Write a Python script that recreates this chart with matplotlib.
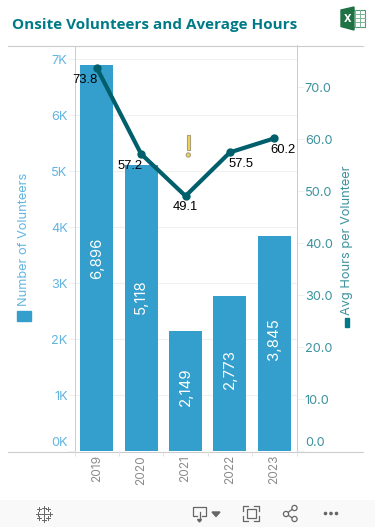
# onsite volunteers bars + avg hours line, dashboard style
import matplotlib
matplotlib.use('Agg')
import matplotlib.pyplot as plt
from matplotlib.patches import Rectangle, Circle, Polygon
from matplotlib.transforms import ScaledTranslation

years = ['2019', '2020', '2021', '2022', '2023']
volunteers = [6896, 5118, 2149, 2773, 3845]
avg_hours = [73.8, 57.2, 49.1, 57.5, 60.2]
left_ticks = [0, 1000, 2000, 3000, 4000, 5000, 6000, 7000]
left_labels = ['0K', '1K', '2K', '3K', '4K', '5K', '6K', '7K']
right_ticks = [0, 10, 20, 30, 40, 50, 60, 70]
right_labels = ['0.0', '10.0', '20.0', '30.0', '40.0', '50.0', '60.0', '70.0']

W, H = 375, 527
BAR = '#349fcd'
LINE = '#005f6b'
TEAL = '#007a87'
LBLUE = '#62b5e0'
RTEAL = '#3c929e'
GRAY = '#cccccc'
FONT = ['Inter', 'DejaVu Sans']

fig = plt.figure(figsize=(W / 100, H / 100), dpi=100)

# page overlay in pixel coords, for rules, footer and icons
page = fig.add_axes([0, 0, 1, 1], zorder=0)
page.set_xlim(0, W)
page.set_ylim(H, 0)
page.axis('off')

# main axes
x0, x1, ytop, ybot = 74.5, 296.5, 45.5, 451
ax = fig.add_axes([x0 / W, 1 - ybot / H, (x1 - x0) / W, (ybot - ytop) / H], zorder=2)
ax.patch.set_alpha(0)
ax.set_xlim(-0.5, 4.5)
ax.set_ylim(0, 7250)
pos = list(range(len(years)))
ax.bar(pos, volunteers, width=0.745, color=BAR, zorder=2)
ax.set_yticks(left_ticks)
ax.set_yticklabels(left_labels, fontsize=9.2, color=LBLUE, family=FONT)
ax.tick_params(axis='y', length=5, color='#f0f0f0', pad=0)
ax.grid(axis='y', color='#f0f0f0', linewidth=0.8, zorder=0)
ax.set_axisbelow(True)
ax.set_xticks([p - 0.5 for p in pos] + [4.5])
ax.set_xticklabels([])
ax.tick_params(axis='x', length=3.5, color='#e2e2e2', width=0.7)
for p, y in zip(pos, years):
    ax.annotate(y, (p, 0), xytext=(0, -4), textcoords='offset pixels', rotation=90,
                ha='center', va='top', fontsize=8.6, color='#8c8c8c', family=FONT)

# bar value labels, nudged like the original
bar_shift = [0, 11, 4, 4, 4]
for p, v, s in zip(pos, volunteers, bar_shift):
    ax.annotate(f'{v:,}', (p, v / 2), xytext=(0, s), textcoords='offset pixels', rotation=90,
                ha='center', va='center', fontsize=10.8, color='white', family=FONT, zorder=3)

# right axis with the line
axr = ax.twinx()
axr.set_ylim(0, 78.08)
axr.plot(pos, avg_hours, color=LINE, linewidth=3, marker='o', markersize=5, zorder=5)
axr.set_yticks(right_ticks)
axr.set_yticklabels(right_labels, fontsize=9.2, color=RTEAL, family=FONT)
axr.tick_params(axis='y', length=5, color='#f0f0f0', pad=1)

# avg hours labels, placed by hand around the line
label_offs = [(-12, -12), (-11, -12), (0, -11), (11, -12), (9, -12)]
for p, v, o in zip(pos, avg_hours, label_offs):
    axr.annotate(f'{v}', (p, v), xytext=o, textcoords='offset pixels', ha='center', va='center',
                 fontsize=9.4, color='black', family='Liberation Sans', zorder=6)

for a in (ax, axr):
    for name in ('top', 'bottom'):
        a.spines[name].set_visible(False)
    for name in ('left', 'right'):
        a.spines[name].set_color(GRAY)
        a.spines[name].set_linewidth(0.7)
ax.spines['right'].set_visible(False)
axr.spines['left'].set_visible(False)

# bottom value labels sit above the baseline, not centred on it
for a in (ax, axr):
    lab = a.get_yticklabels()[0]
    lab.set_transform(lab.get_transform() + ScaledTranslation(0, 0.1, fig.dpi_scale_trans))

# rules across the page
page.plot([8, 363], [45.5, 45.5], color=GRAY, linewidth=0.8)
page.plot([8, 363], [451.5, 451.5], color=GRAY, linewidth=0.8)

page.text(12, 25.5, 'Onsite Volunteers and Average Hours', fontsize=10.95, fontweight='bold',
          color=TEAL, family='Open Sans', ha='left', va='center')

# axis titles and legend squares
page.text(24.5, 239, 'Number of Volunteers', rotation=90, fontsize=9.2, color=LBLUE,
          family=FONT, ha='center', va='center')
page.add_patch(Rectangle((17, 310.5), 14, 10, color=BAR))
page.text(347, 240, 'Avg Hours per Volunteer', rotation=90, fontsize=9.2, color=RTEAL,
          family=FONT, ha='center', va='center')
page.add_patch(Rectangle((345, 318), 4, 8.5, color=TEAL))

# warning mark in the middle of the chart
page.add_patch(Rectangle((186.5, 134.5), 3.5, 15, facecolor='#f2d45c', edgecolor='#a89f7a', linewidth=0.8))
page.add_patch(Circle((188.3, 155), 2.1, facecolor='#f2d45c', edgecolor='#a89f7a', linewidth=0.8))

# excel icon
page.add_patch(Rectangle((349, 10), 16, 17, facecolor='white', edgecolor='#4f9a6e', linewidth=0.8))
for yy in (14, 18, 22):
    page.plot([355, 365], [yy, yy], color='#7bb594', linewidth=0.7)
for xx in (355, 360):
    page.plot([xx, xx], [10, 27], color='#7bb594', linewidth=0.7)
page.add_patch(Polygon([(341, 10), (354, 7), (354, 30), (341, 26.5)], color='#1f7244'))
page.text(347.5, 18.5, 'X', color='white', fontsize=7, fontweight='bold', ha='center', va='center')

# footer toolbar
page.add_patch(Rectangle((0, 500), W, 27, color='#f9f9f9', linewidth=0))
ic = '#666666'
# tableau logo
for cx, cy, r in [(43.5, 513.5, 3.5), (37.5, 513.5, 2), (49.5, 513.5, 2), (43.5, 507.5, 2), (43.5, 519.5, 2),
                  (39, 509, 1.8), (48, 509, 1.8), (39, 518, 1.8), (48, 518, 1.8)]:
    page.plot([cx - r, cx + r], [cy, cy], color=ic, linewidth=0.7)
    page.plot([cx, cx], [cy - r, cy + r], color=ic, linewidth=0.7)
# download
page.plot([197, 193, 193, 206, 206, 202], [516, 516, 507, 507, 516, 516], color=ic, linewidth=0.9)
page.plot([199.5, 199.5], [512, 520], color=ic, linewidth=0.9)
page.add_patch(Polygon([(197.5, 519.5), (201.5, 519.5), (199.5, 522)], color=ic))
page.add_patch(Polygon([(212, 512), (220, 512), (216, 516.5)], color=ic))
# fullscreen
page.add_patch(Rectangle((247, 509), 8.5, 9, facecolor='none', edgecolor=ic, linewidth=0.9))
for xs, ys in [([243, 243, 248], [511, 506, 506]), ([254, 259, 259], [506, 506, 511]),
               ([243, 243, 248], [516, 521, 521]), ([254, 259, 259], [521, 521, 516])]:
    page.plot(xs, ys, color=ic, linewidth=0.9)
# share
page.plot([294, 286, 294], [508, 514, 519], color=ic, linewidth=0.9)
for cx, cy in [(294.5, 508), (286, 514), (294.5, 519)]:
    page.add_patch(Circle((cx, cy), 2.6, facecolor='#f9f9f9', edgecolor=ic, linewidth=0.9, zorder=3))
# more
for cx in (325.5, 331, 336.5):
    page.add_patch(Circle((cx, 513.5), 1.1, color=ic))

fig.savefig('out.png', dpi=100)
